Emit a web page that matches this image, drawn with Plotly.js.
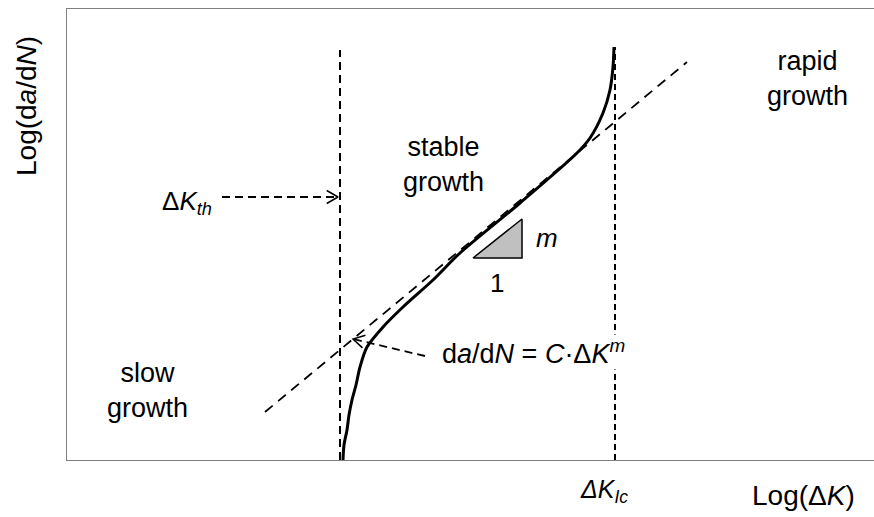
<!DOCTYPE html>
<html>
<head>
<meta charset="utf-8">
<script src="https://cdn.plot.ly/plotly-3.0.1.min.js"></script>
<style>
  html, body { margin: 0; padding: 0; background: #ffffff; }
  #chart { width: 874px; height: 517px; }
</style>
</head>
<body>
<div id="chart"></div>
<script>
// ---- data (schematic units: log(ΔK) horizontally, log(da/dN) vertically) ----
const curveX = [276, 277, 280, 282, 285, 289, 293, 300, 316, 336, 366, 393, 453, 510, 523, 536, 543, 546, 547];
const curveY = [0, 15, 30, 45, 60, 75, 93, 113, 133, 153, 180, 207, 257, 307, 322, 347, 370, 393, 413];

const parisX = [198, 620];
const parisY = [48, 398];

const dKth = 273;
const dKthTop = 410;
const dKIc = 548;
const dKIcTop = 413;

const triX = [406, 455, 455, 406];
const triY = [202, 202, 241, 202];

// arrows: [fromX, fromY, toX, toY]
const arrowTh = [155, 263, 271, 263];
const arrowParis = [358, 104, 286, 121];

const xMax = 807, yMax = 451;

// ---- helpers ----
function chevron(a, len, ang) {
  const dx = a[0] - a[2], dy = a[1] - a[3];
  const n = Math.hypot(dx, dy);
  const ux = dx / n, uy = dy / n;
  const c = Math.cos(ang), s = Math.sin(ang);
  const p1 = [a[2] + len * (ux * c - uy * s), a[3] + len * (ux * s + uy * c)];
  const p2 = [a[2] + len * (ux * c + uy * s), a[3] + len * (-ux * s + uy * c)];
  return { x: [p1[0], a[2], p2[0]], y: [p1[1], a[3], p2[1]] };
}

const black = '#000000';
const traces = [];

traces.push({ x: [dKth, dKth], y: [0, dKthTop], mode: 'lines',
  line: { color: black, width: 2, dash: '8px,5px' }, hoverinfo: 'skip' });
traces.push({ x: [dKIc, dKIc], y: [0, dKIcTop], mode: 'lines',
  line: { color: black, width: 2, dash: '6px,4px' }, hoverinfo: 'skip' });
traces.push({ x: parisX, y: parisY, mode: 'lines',
  line: { color: black, width: 1.8, dash: '10px,7px' }, hoverinfo: 'skip' });
traces.push({ x: triX, y: triY, mode: 'lines', fill: 'toself', fillcolor: '#c0c0c0',
  line: { color: black, width: 1.5 }, hoverinfo: 'skip' });
traces.push({ x: curveX, y: curveY, mode: 'lines',
  line: { color: black, width: 3, shape: 'spline', smoothing: 0.8 }, hoverinfo: 'skip' });

[arrowTh, arrowParis].forEach(a => {
  traces.push({ x: [a[0], a[2]], y: [a[1], a[3]], mode: 'lines',
    line: { color: black, width: 1.8, dash: '8px,5px' }, hoverinfo: 'skip' });
  const c = chevron(a, 13, Math.PI / 6);
  traces.push({ x: c.x, y: c.y, mode: 'lines',
    line: { color: black, width: 1.5 }, hoverinfo: 'skip' });
});

const fam = 'Liberation Sans, Arial, Helvetica, sans-serif';
function ann(text, x, y, size, xanchor, extra) {
  return Object.assign({ text: text, x: x, y: y, xref: 'x', yref: 'y', showarrow: false,
    xanchor: xanchor || 'center', yanchor: 'middle',
    font: { family: fam, size: size, color: black } }, extra || {});
}
// annotation outside the axis ranges: placed in paper units
function annP(text, x, y, size, xanchor, extra) {
  return ann(text, x / xMax, y / yMax, size, xanchor,
    Object.assign({ xref: 'paper', yref: 'paper' }, extra || {}));
}

const annotations = [
  ann('stable<br>growth', 376, 296, 27),
  ann('rapid<br>growth', 740, 382, 27),
  ann('slow<br>growth', 80, 70, 27),
  ann('<i>m</i>', 480, 222, 26),
  ann('1', 430, 177, 26),
  ann('Δ<i>K</i><sub><i>th</i></sub>', 147, 258, 26, 'right'),
  ann('d<i>a</i>/d<i>N</i> = <i>C</i>·Δ<i>K</i><sup><i>m</i></sup>', 374, 108, 27, 'left',
    { bgcolor: '#ffffff', borderpad: 0 }),
  annP('<i>ΔK</i><sub><i>Ic</i></sub>', 537, -31, 25),
  annP('Log(Δ<i>K</i>)', 736, -35, 28),
  annP('Log(d<i>a</i>/d<i>N</i>)', -41, 354, 28, 'center', { textangle: -90 })
];

const layout = {
  width: 874, height: 517,
  margin: { l: 67, r: 0, t: 9, b: 57, pad: 0 },
  paper_bgcolor: '#ffffff', plot_bgcolor: '#ffffff',
  showlegend: false,
  xaxis: { range: [0, xMax], showgrid: false, zeroline: false, showticklabels: false, ticks: '',
    showline: true, linecolor: '#808080', linewidth: 1.2, mirror: true, fixedrange: true },
  yaxis: { range: [0, yMax], showgrid: false, zeroline: false, showticklabels: false, ticks: '',
    showline: true, linecolor: '#808080', linewidth: 1.2, mirror: false, fixedrange: true },
  annotations: annotations
};

Plotly.newPlot('chart', traces, layout, { staticPlot: true, displayModeBar: false });
</script>
</body>
</html>
